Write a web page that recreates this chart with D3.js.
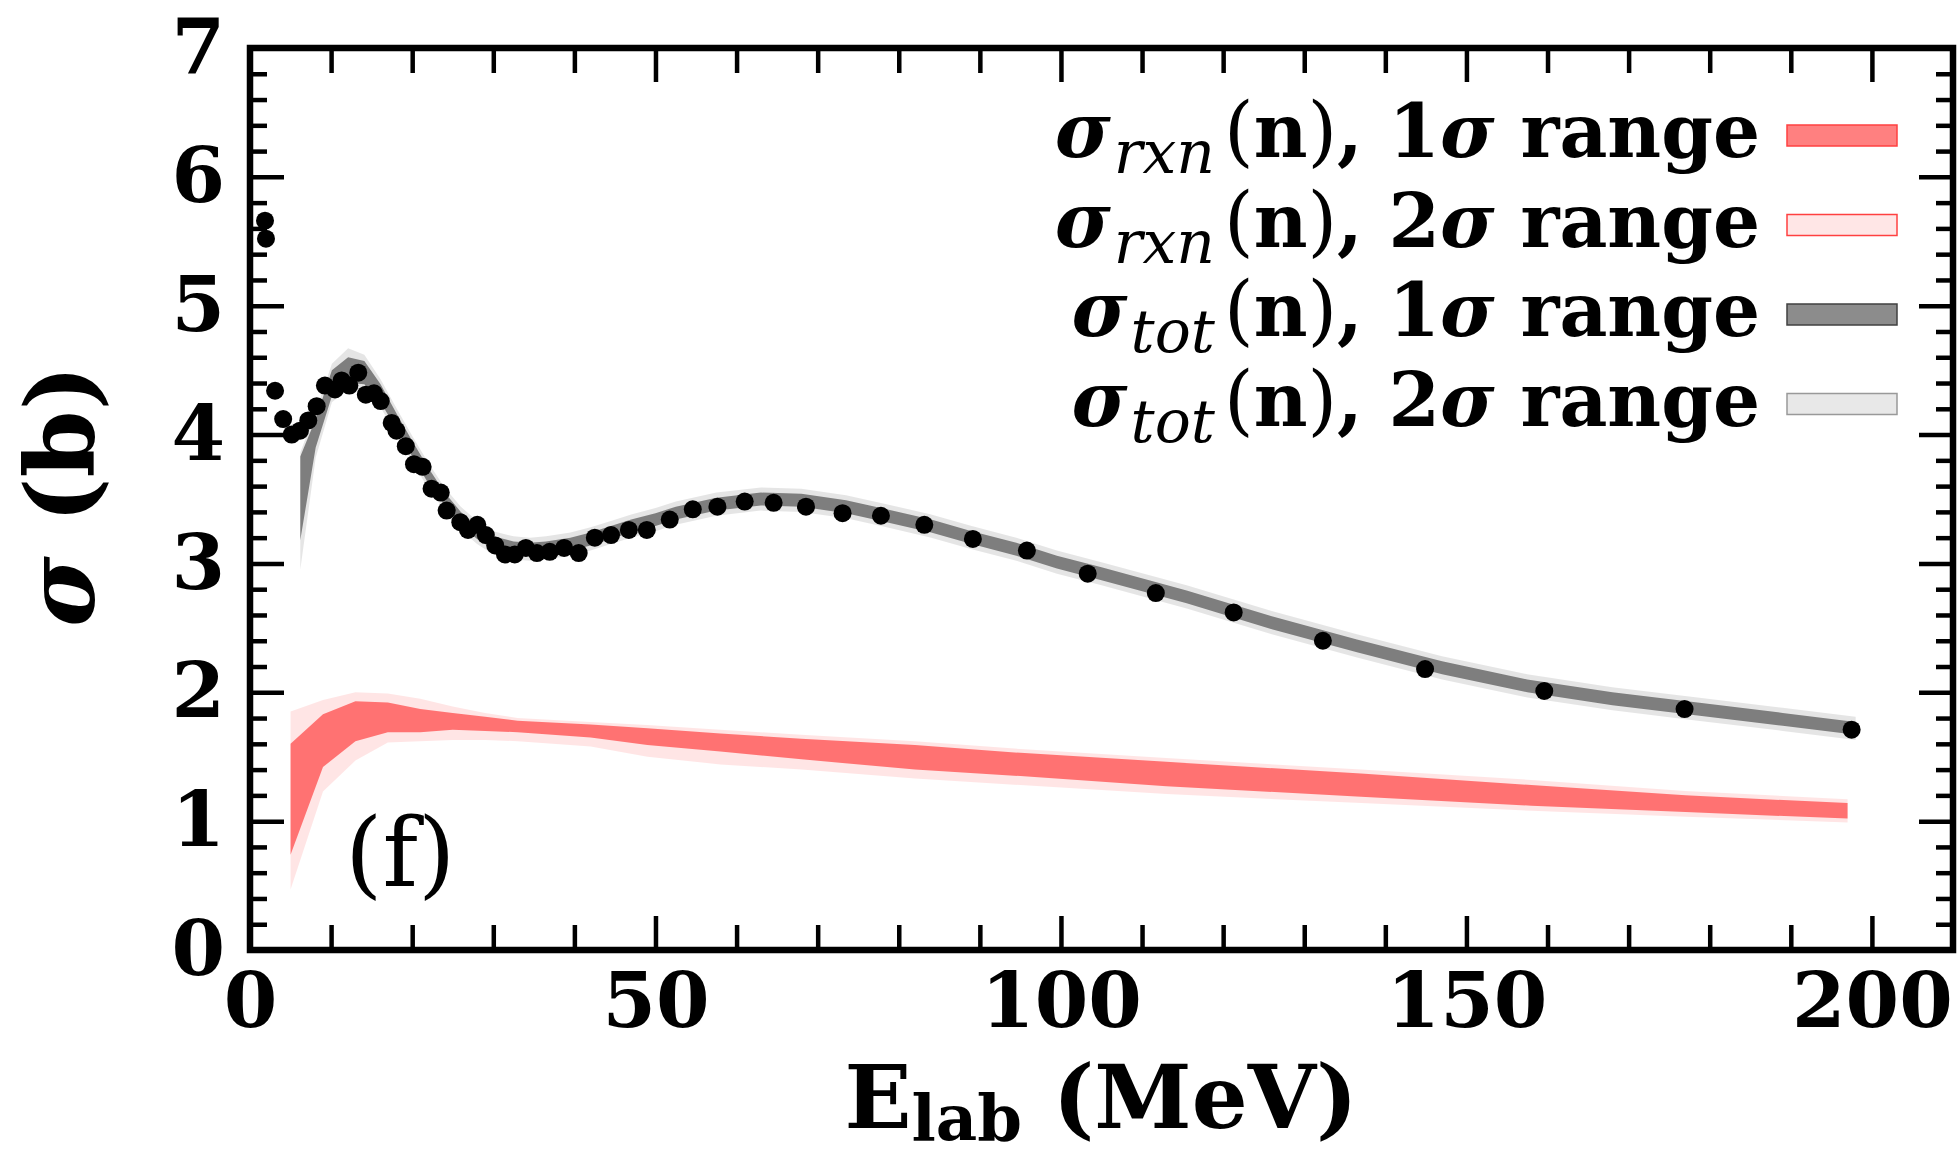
<!DOCTYPE html>
<html>
<head>
<meta charset="utf-8">
<script src="https://cdn.jsdelivr.net/npm/d3@7"></script>
<style>
  body { margin: 0; background: #fff; }
  svg text { font-family: "DejaVu Serif", serif; white-space: pre; }
</style>
</head>
<body>
<svg id="chart" width="1957" height="1158"></svg>
<script>
// experimental total cross section (E_lab in MeV, sigma in b)
const expE = [1.85, 1.97, 3.09, 4.09, 5.14, 6.16, 7.19, 8.22, 9.24, 10.48, 11.3, 12.25, 13.35, 14.28, 15.29, 16.12,
  17.47, 18.06, 19.21, 20.22, 21.29, 22.39, 23.52, 24.25, 25.93, 26.88, 28.03, 29.08, 30.24, 31.44, 32.65, 34.02,
  35.38, 36.96, 38.74, 40.53, 42.52, 44.52, 46.72, 48.93, 51.76, 54.6, 57.64, 61.0, 64.57, 68.56, 73.07, 77.8,
  83.15, 89.14, 95.8, 103.3, 111.7, 121.3, 132.3, 144.9, 159.6, 176.9, 197.5]
const expSigma = [5.66, 5.52, 4.34, 4.12, 4.0, 4.03, 4.11, 4.22, 4.38, 4.35, 4.42, 4.38, 4.48, 4.31, 4.32, 4.26,
  4.09, 4.03, 3.91, 3.77, 3.75, 3.58, 3.55, 3.41, 3.32, 3.26, 3.3, 3.22, 3.14, 3.07, 3.07, 3.12,
  3.08, 3.09, 3.12, 3.08, 3.2, 3.22, 3.26, 3.26, 3.34, 3.42, 3.44, 3.48, 3.47, 3.44, 3.39, 3.37,
  3.3, 3.19, 3.1, 2.92, 2.77, 2.62, 2.4, 2.18, 2.01, 1.87, 1.71]

// reaction cross section bands
const rxnE = [5, 9, 13, 17, 21, 25, 29, 33, 42, 49, 58, 68, 82, 95, 113, 137, 158, 177, 197]
const rxn1Lo = [0.74, 1.42, 1.62, 1.69, 1.69, 1.71, 1.7, 1.69, 1.65, 1.59, 1.54, 1.48, 1.4, 1.35, 1.27, 1.19, 1.12, 1.07, 1.02]
const rxn1Hi = [1.6, 1.83, 1.93, 1.92, 1.87, 1.84, 1.81, 1.78, 1.75, 1.72, 1.68, 1.64, 1.59, 1.53, 1.46, 1.37, 1.28, 1.2, 1.14]
const rxn2Lo = [0.47, 1.23, 1.47, 1.61, 1.62, 1.63, 1.63, 1.62, 1.58, 1.5, 1.44, 1.4, 1.33, 1.28, 1.21, 1.14, 1.08, 1.035, 0.99]
const rxn2Hi = [1.85, 1.94, 2.0, 1.99, 1.95, 1.89, 1.84, 1.8, 1.77, 1.746, 1.71, 1.67, 1.62, 1.56, 1.49, 1.4, 1.32, 1.234, 1.17]

// total cross section bands
const totE = [6.2, 8.1, 10.1, 12.1, 14.1, 16.1, 18.1, 20.1, 22, 24, 26, 28, 30, 32.5, 34.5, 36.5, 39.5, 42, 44.5, 47,
  50, 52.5, 57.5, 63, 68, 73.5, 78.5, 84, 89, 94.5, 99.5, 105, 115.5, 126, 136.5, 147, 157.5, 168, 178.5, 189, 198]
const tot1Lo = [3.18, 3.9, 4.3, 4.4, 4.39, 4.25, 4.04, 3.82, 3.62, 3.45, 3.3, 3.19, 3.11, 3.07, 3.06, 3.07, 3.1, 3.14, 3.19, 3.24,
  3.29, 3.34, 3.41, 3.45, 3.44, 3.39, 3.32, 3.24, 3.15, 3.06, 2.96, 2.87, 2.69, 2.49, 2.31, 2.14, 2.0, 1.9, 1.82, 1.74, 1.67]
const tot1Hi = [3.83, 4.12, 4.5, 4.6, 4.57, 4.39, 4.16, 3.94, 3.74, 3.55, 3.4, 3.29, 3.21, 3.17, 3.16, 3.17, 3.2, 3.24, 3.29, 3.34,
  3.39, 3.44, 3.51, 3.55, 3.54, 3.49, 3.42, 3.34, 3.25, 3.16, 3.06, 2.97, 2.79, 2.59, 2.41, 2.24, 2.1, 2.0, 1.92, 1.84, 1.77]
const tot2Lo = [2.95, 3.82, 4.25, 4.35, 4.34, 4.21, 4.0, 3.78, 3.58, 3.41, 3.26, 3.15, 3.07, 3.03, 3.02, 3.03, 3.06, 3.1, 3.15, 3.2,
  3.25, 3.3, 3.37, 3.41, 3.4, 3.35, 3.28, 3.2, 3.11, 3.02, 2.92, 2.83, 2.65, 2.45, 2.27, 2.1, 1.96, 1.86, 1.78, 1.7, 1.63]
const tot2Hi = [3.86, 4.18, 4.55, 4.67, 4.62, 4.43, 4.2, 3.98, 3.78, 3.59, 3.44, 3.33, 3.25, 3.21, 3.2, 3.21, 3.24, 3.28, 3.33, 3.38,
  3.43, 3.48, 3.55, 3.59, 3.58, 3.53, 3.46, 3.38, 3.29, 3.2, 3.1, 3.01, 2.83, 2.63, 2.45, 2.28, 2.14, 2.04, 1.96, 1.88, 1.81]

const xTicks = [0, 50, 100, 150, 200]
const yTicks = [0, 1, 2, 3, 4, 5, 6, 7]
const legendSubs = ["rxn", "rxn", "tot", "tot"]
const legendLevels = ["1", "2", "1", "2"]

const chartApp = {

  init: function () {
    const svg = d3.select("#chart")
    const x = d3.scaleLinear().domain([0, 210]).range([250, 1953])
    const y = d3.scaleLinear().domain([0, 7]).range([950, 48])

    svg.append("defs").append("clipPath").attr("id", "plotclip")
      .append("rect").attr("x", 250).attr("y", 48).attr("width", 1703).attr("height", 902)

    this.internal = { svg, x, y }
    this.drawBands()
    this.drawPoints()
    this.drawAxes()
    this.drawLegend()
    this.drawLabels()
  },

  band: function (es, lo, hi) {
    const { x, y } = this.internal
    const rows = es.map((e, i) => ({ e: e, lo: lo[i], hi: hi[i] }))
    return d3.area()
      .x(d => x(d.e))
      .y0(d => y(d.lo))
      .y1(d => y(d.hi))(rows)
  },

  drawBands: function () {
    const g = this.internal.svg.append("g").attr("clip-path", "url(#plotclip)")
    g.append("path").attr("d", this.band(rxnE, rxn2Lo, rxn2Hi)).attr("fill", "red").attr("fill-opacity", 0.1)
    g.append("path").attr("d", this.band(rxnE, rxn1Lo, rxn1Hi)).attr("fill", "red").attr("fill-opacity", 0.5)
    g.append("path").attr("d", this.band(totE, tot2Lo, tot2Hi)).attr("fill", "black").attr("fill-opacity", 0.1)
    g.append("path").attr("d", this.band(totE, tot1Lo, tot1Hi)).attr("fill", "black").attr("fill-opacity", 0.45)
  },

  drawPoints: function () {
    const { svg, x, y } = this.internal
    svg.append("g").attr("clip-path", "url(#plotclip)")
      .selectAll("circle")
      .data(expE)
      .enter().append("circle")
      .attr("cx", d => x(d))
      .attr("cy", (d, i) => y(expSigma[i]))
      .attr("r", 9)
      .attr("fill", "black")
  },

  drawAxes: function () {
    const { svg, x, y } = this.internal
    const xMinor = d3.range(10, 210, 10).filter(v => v % 50)
    const yMinor = d3.range(1, 35).filter(i => i % 5).map(i => i / 5)

    const style = g => {
      g.select(".domain").remove()
      g.selectAll("line").attr("stroke", "black").attr("stroke-width", 4.5)
      g.selectAll("text").attr("font-size", 77).attr("font-weight", "bold").attr("fill", "black")
        .attr("font-family", "DejaVu Serif")
    }

    svg.append("g").attr("transform", "translate(0,950)")
      .call(d3.axisBottom(x).tickValues(xTicks).tickSize(-34).tickPadding(22).tickFormat(d3.format("d"))).call(style)
    svg.append("g").attr("transform", "translate(0,950)")
      .call(d3.axisBottom(x).tickValues(xMinor).tickSize(-25).tickFormat("")).call(style)
    svg.append("g").attr("transform", "translate(0,48)")
      .call(d3.axisTop(x).tickValues(xTicks).tickSize(-34).tickFormat("")).call(style)
    svg.append("g").attr("transform", "translate(0,48)")
      .call(d3.axisTop(x).tickValues(xMinor).tickSize(-25).tickFormat("")).call(style)

    svg.append("g").attr("transform", "translate(250,0)")
      .call(d3.axisLeft(y).tickValues(yTicks).tickSize(-34).tickPadding(25).tickFormat(d3.format("d"))).call(style)
    svg.append("g").attr("transform", "translate(250,0)")
      .call(d3.axisLeft(y).tickValues(yMinor).tickSize(-17).tickFormat("")).call(style)
    svg.append("g").attr("transform", "translate(1953,0)")
      .call(d3.axisRight(y).tickValues(yTicks).tickSize(-34).tickFormat("")).call(style)
    svg.append("g").attr("transform", "translate(1953,0)")
      .call(d3.axisRight(y).tickValues(yMinor).tickSize(-17).tickFormat("")).call(style)

    svg.append("rect")
      .attr("x", 250).attr("y", 48).attr("width", 1703).attr("height", 902)
      .attr("fill", "none").attr("stroke", "black").attr("stroke-width", 6.5)
  },

  drawLegend: function () {
    const svg = this.internal.svg
    const fills = ["#ff8080", "#ffe6e6", "#8c8c8c", "#e8e8e8"]
    const edges = ["#ff4040", "#ff4040", "#404040", "#999999"]
    const g = svg.append("g")

    legendSubs.forEach(function (sub, i) {
      const cy = 135 + i * 89.5
      g.append("rect")
        .attr("x", 1787).attr("y", cy - 10).attr("width", 110).attr("height", 21)
        .attr("fill", fills[i]).attr("stroke", edges[i]).attr("stroke-width", 1.5)

      const t = g.append("text")
        .attr("x", 1760).attr("y", cy + 22)
        .attr("text-anchor", "end")
        .attr("font-size", 74).attr("font-weight", "bold")
      t.append("tspan").attr("font-style", "italic").attr("font-size", 76).text("σ")
      t.append("tspan").attr("font-style", "italic").attr("font-weight", "normal")
        .attr("font-size", 60).attr("dx", 3).attr("dy", 16).text(sub)
      t.append("tspan").attr("dx", 9).attr("dy", -16).attr("font-weight", "normal").attr("font-size", 76).text("(")
      t.append("tspan").text("n")
      t.append("tspan").attr("font-weight", "normal").attr("font-size", 76).text(")")
      t.append("tspan").text(", " + legendLevels[i])
      t.append("tspan").attr("font-style", "italic").text("σ")
      t.append("tspan").text(" range")
    })
  },

  drawLabels: function () {
    const svg = this.internal.svg

    const xl = svg.append("text")
      .attr("x", 1101).attr("y", 1128)
      .attr("text-anchor", "middle")
      .attr("font-size", 88).attr("font-weight", "bold")
    xl.append("tspan").text("E")
    xl.append("tspan").attr("font-size", 64).attr("dy", 12).text("lab")
    xl.append("tspan").attr("dy", -12).text(" (MeV)")

    const yl = svg.append("text")
      .attr("transform", "translate(94,496) rotate(-90)")
      .attr("text-anchor", "middle")
      .attr("font-size", 96).attr("font-weight", "bold")
    yl.append("tspan").attr("font-style", "italic").text("σ")
    yl.append("tspan").text(" (b)")

    svg.append("text")
      .attr("x", 345).attr("y", 886)
      .attr("font-size", 96)
      .text("(f)")
  },

  run: function () {
    this.init()
  }
}

chartApp.run()
</script>
</body>
</html>
